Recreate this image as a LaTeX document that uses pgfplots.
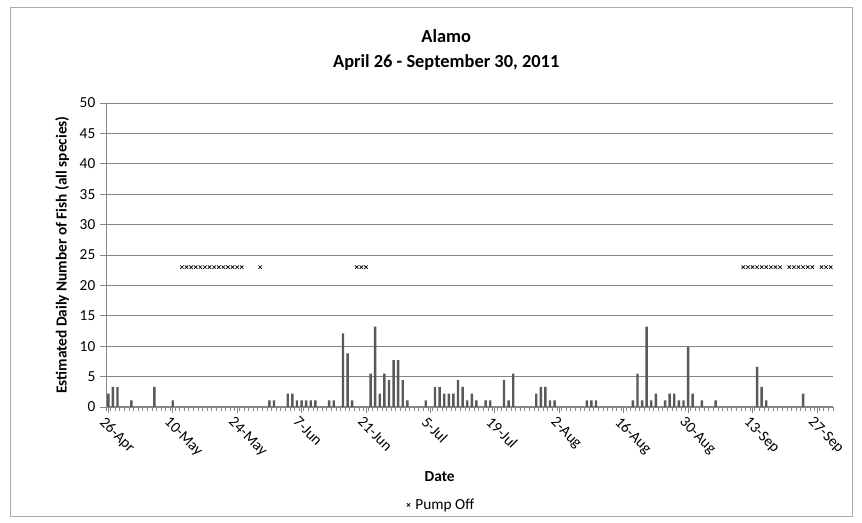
\documentclass[border=0pt]{standalone}
\usepackage{pgfplots}
\pgfplotsset{compat=1.18}
\usepackage{fontspec}
\setmainfont{Carlito}
\definecolor{barcol}{HTML}{595959}
\definecolor{axcol}{HTML}{868686}
\begin{document}
\begin{tikzpicture}
\path[use as bounding box] (0pt,0pt) rectangle (646.5pt,392.25pt);
\draw[color=axcol!70, line width=0.6pt] (7.5pt,5.25pt) rectangle (639pt,387pt);
\begin{axis}[
  at={(79.5pt,87pt)}, anchor=south west,
  scale only axis, width=545.25pt, height=228pt,
  clip=false,
  /pgf/number format/assume math mode=true,
  xmin=-0.5, xmax=157.5, ymin=0, ymax=50,
  ytick={0,5,...,50},
  ymajorgrids, grid style={draw=axcol, line width=0.6pt},
  axis x line*=bottom, axis y line*=left,
  axis line style={-, draw=axcol, line width=0.75pt},
  xtick={0,14,...,154},
  xticklabels={26-Apr,10-May,24-May,7-Jun,21-Jun,5-Jul,19-Jul,2-Aug,16-Aug,30-Aug,13-Sep,27-Sep},
  minor xtick={-0.5,0.5,...,157.5},
  tick align=outside,
  major tick length=4.5pt, minor tick length=3pt,
  tick style={draw=axcol, line width=0.6pt},
  every tick label/.append style={font=\fontsize{11.5}{13.5}\selectfont, text=black},
  x tick label style={rotate=-45, anchor=north west, xshift=-3pt, yshift=1pt},
  ylabel={\textbf{Estimated Daily Number of Fish (all species)}},
  ylabel style={at={(axis description cs:-0.0605,0.5)}, anchor=center, font=\fontsize{11.5}{13.5}\selectfont},
  xlabel={\textbf{Date}},
  xlabel style={at={(axis description cs:0.459,-0.230)}, anchor=center, font=\fontsize{11.5}{13.5}\selectfont},
  legend style={draw=none, at={(axis description cs:0.462,-0.322)}, anchor=center, font=\fontsize{11.5}{13.5}\selectfont, inner sep=1pt},
  legend cell align=left,
]
\addplot[ybar, bar width=1.8pt, fill=barcol, draw=none, forget plot] coordinates {
(0,2.2) (1,3.3) (2,3.3) (5,1.1) (10,3.3) (14,1.1)
(35,1.1) (36,1.1) (39,2.2) (40,2.2) (41,1.1) (42,1.1) (43,1.1) (44,1.1) (45,1.1)
(48,1.1) (49,1.1) (51,12.1) (52,8.8) (53,1.1) (57,5.5) (58,13.2) (59,2.2) (60,5.5)
(61,4.4) (62,7.7) (63,7.7) (64,4.4) (65,1.1) (69,1.1) (71,3.3) (72,3.3) (73,2.2)
(74,2.2) (75,2.2) (76,4.4) (77,3.3) (78,1.1) (79,2.2) (80,1.1) (82,1.1) (83,1.1)
(86,4.4) (87,1.1) (88,5.5) (93,2.2) (94,3.3) (95,3.3) (96,1.1) (97,1.1)
(104,1.1) (105,1.1) (106,1.1) (114,1.1) (115,5.5) (116,1.1) (117,13.2) (118,1.1)
(119,2.2) (121,1.1) (122,2.2) (123,2.2) (124,1.1) (125,1.1) (126,9.9) (127,2.2)
(129,1.1) (132,1.1) (141,6.6) (142,3.3) (143,1.1) (151,2.2)
};
\addplot[only marks, mark=x, mark size=1.8pt, black, line width=0.5pt] coordinates {
(16,23) (17,23) (18,23) (19,23) (20,23) (21,23) (22,23) (23,23) (24,23) (25,23) (26,23) (27,23) (28,23) (29,23)
(33,23) (54,23) (55,23) (56,23)
(138,23) (139,23) (140,23) (141,23) (142,23) (143,23) (144,23) (145,23) (146,23)
(148,23) (149,23) (150,23) (151,23) (152,23) (153,23)
(155,23) (156,23) (157,23)
};
\addlegendentry{\hspace{2pt}Pump Off}
\node[font=\bfseries\fontsize{13.8}{18.75}\selectfont, align=center] at (rel axis cs:0.468,1.176) {Alamo\\April 26 - September 30, 2011};
\end{axis}
\end{tikzpicture}
\end{document}
